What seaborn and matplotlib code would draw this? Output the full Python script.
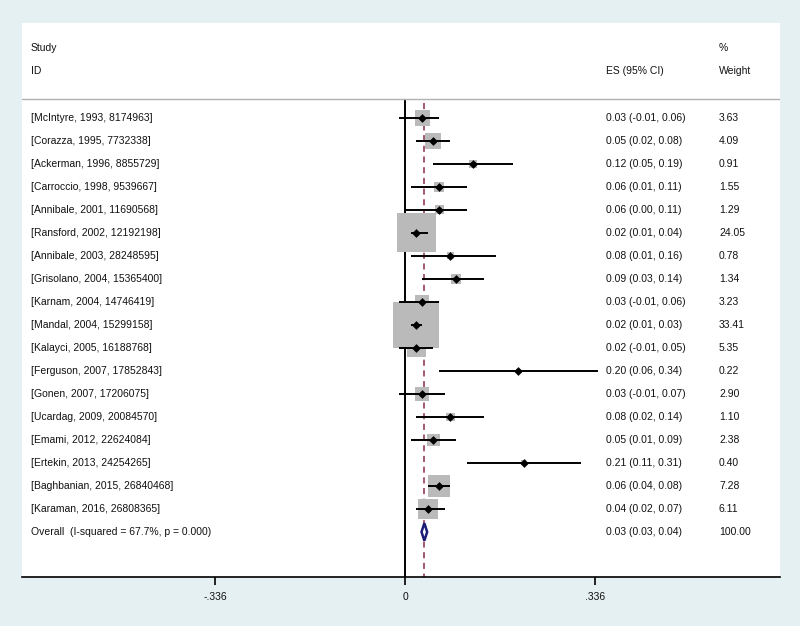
import matplotlib
matplotlib.use("Agg")
import matplotlib.pyplot as plt
import matplotlib.transforms as mtransforms
import seaborn as sns
import pandas as pd
import numpy as np

studies = ["[McIntyre, 1993, 8174963]", "[Corazza, 1995, 7732338]", "[Ackerman, 1996, 8855729]",
           "[Carroccio, 1998, 9539667]", "[Annibale, 2001, 11690568]", "[Ransford, 2002, 12192198]",
           "[Annibale, 2003, 28248595]", "[Grisolano, 2004, 15365400]", "[Karnam, 2004, 14746419]",
           "[Mandal, 2004, 15299158]", "[Kalayci, 2005, 16188768]", "[Ferguson, 2007, 17852843]",
           "[Gonen, 2007, 17206075]", "[Ucardag, 2009, 20084570]", "[Emami, 2012, 22624084]",
           "[Ertekin, 2013, 24254265]", "[Baghbanian, 2015, 26840468]", "[Karaman, 2016, 26808365]"]
es = [0.03, 0.05, 0.12, 0.06, 0.06, 0.02, 0.08, 0.09, 0.03, 0.02, 0.02, 0.20, 0.03, 0.08, 0.05, 0.21, 0.06, 0.04]
lo = [-0.01, 0.02, 0.05, 0.01, 0.00, 0.01, 0.01, 0.03, -0.01, 0.01, -0.01, 0.06, -0.01, 0.02, 0.01, 0.11, 0.04, 0.02]
hi = [0.06, 0.08, 0.19, 0.11, 0.11, 0.04, 0.16, 0.14, 0.06, 0.03, 0.05, 0.34, 0.07, 0.14, 0.09, 0.31, 0.08, 0.07]
weights = [3.63, 4.09, 0.91, 1.55, 1.29, 24.05, 0.78, 1.34, 3.23, 33.41, 5.35, 0.22, 2.90, 1.10, 2.38, 0.40, 7.28, 6.11]
es_labels = ["0.03 (-0.01, 0.06)", "0.05 (0.02, 0.08)", "0.12 (0.05, 0.19)", "0.06 (0.01, 0.11)",
             "0.06 (0.00, 0.11)", "0.02 (0.01, 0.04)", "0.08 (0.01, 0.16)", "0.09 (0.03, 0.14)",
             "0.03 (-0.01, 0.06)", "0.02 (0.01, 0.03)", "0.02 (-0.01, 0.05)", "0.20 (0.06, 0.34)",
             "0.03 (-0.01, 0.07)", "0.08 (0.02, 0.14)", "0.05 (0.01, 0.09)", "0.21 (0.11, 0.31)",
             "0.06 (0.04, 0.08)", "0.04 (0.02, 0.07)"]
weight_labels = ["3.63", "4.09", "0.91", "1.55", "1.29", "24.05", "0.78", "1.34", "3.23", "33.41",
                 "5.35", "0.22", "2.90", "1.10", "2.38", "0.40", "7.28", "6.11"]
overall_label = "Overall  (I-squared = 67.7%, p = 0.000)"
overall_es, overall_lo, overall_hi = 0.034, 0.029, 0.039
overall_es_label = "0.03 (0.03, 0.04)"
overall_weight_label = "100.00"
tick_vals = [-0.336, 0, 0.336]
tick_labels = ["-.336", "0", ".336"]

df = pd.DataFrame({"study": studies, "es": es, "lo": lo, "hi": hi, "w": weights})
df["row"] = np.arange(len(df))

sns.set_theme(style="white")
plt.rcParams["font.family"] = ["Liberation Sans", "DejaVu Sans"]
FS = 7.5
TXT = "#111111"

bg = "#e5f0f2"
fig = plt.figure(figsize=(8.0, 6.26), dpi=100, facecolor=bg)
ax = fig.add_axes([22/800, 1-577/626, (780-22)/800, (577-23)/626])
ax.set_facecolor("white")

ax.set_xlim(-0.677, 0.6625)
ax.set_ylim(19.96, -4.13)

overall_row = len(df)

# reference lines
ax.vlines(0, -0.8, 19.96, color="black", lw=1.4, zorder=1)
ax.vlines(overall_es, -0.65, 19.96, color="#8a2c4e", lw=1.1, linestyles=(0, (4, 3)), zorder=1)

# weight boxes
sns.scatterplot(data=df, x="es", y="row", size="w", sizes=(0.22*32.8, 33.41*32.8),
                size_norm=(0.22, 33.41), marker="s", color="#bababa", edgecolor="none",
                linewidth=0, legend=False, ax=ax, zorder=2)
# CIs
ax.hlines(df["row"], df["lo"], df["hi"], color="black", lw=1.4, zorder=3)
# point estimates
sns.scatterplot(data=df, x="es", y="row", marker="D", s=20, color="black", edgecolor="black",
                linewidth=0, legend=False, ax=ax, zorder=4)

# overall diamond
h = 0.38
ax.fill([overall_lo, overall_es, overall_hi, overall_es, overall_lo],
        [overall_row, overall_row - h, overall_row, overall_row + h, overall_row],
        facecolor="white", edgecolor="#1c1c7a", lw=1.8, zorder=5)

# header separator
ax.axhline(-0.83, color="#b0b0b0", lw=1.0, zorder=1)

trans = mtransforms.blended_transform_factory(ax.transAxes, ax.transData)
x_lab, x_es, x_w = 0.0119, 0.7705, 0.9195
kw = dict(transform=trans, fontsize=FS, va="center", ha="left", color=TXT)
ax.text(x_lab, -3.04, "Study", **kw)
ax.text(x_lab, -2.04, "ID", **kw)
ax.text(x_es, -2.04, "ES (95% CI)", **kw)
ax.text(x_w, -3.04, "%", **kw)
ax.text(x_w, -2.04, "Weight", **kw)

for i in range(len(df)):
    ax.text(x_lab, i, studies[i], **kw)
    ax.text(x_es, i, es_labels[i], **kw)
    ax.text(x_w, i, weight_labels[i], **kw)
ax.text(x_lab, overall_row, overall_label, **kw)
ax.text(x_es, overall_row, overall_es_label, **kw)
ax.text(x_w, overall_row, overall_weight_label, **kw)

# axes styling
for s in ["top", "right", "left"]:
    ax.spines[s].set_visible(False)
ax.spines["bottom"].set_color("black")
ax.spines["bottom"].set_linewidth(1.2)
ax.set_yticks([])
ax.set_xticks(tick_vals)
ax.set_xticklabels(tick_labels, fontsize=FS, color=TXT)
ax.tick_params(axis="x", direction="out", length=6, width=1.2, color="black", pad=5, bottom=True)
ax.set_xlabel("")
ax.set_ylabel("")

fig.savefig("out.png", dpi=100, facecolor=bg)
